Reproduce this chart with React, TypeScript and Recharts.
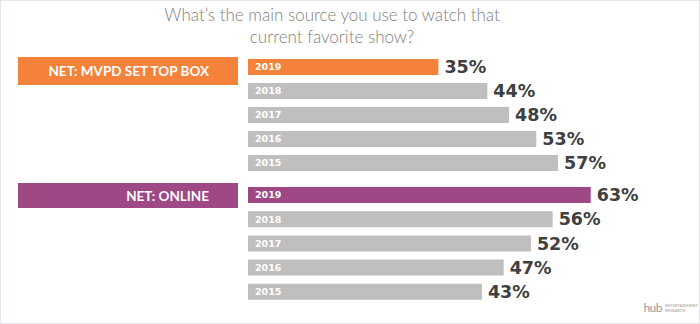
import React from 'react';
import { BarChart, Bar, XAxis, YAxis, LabelList, Cell } from 'recharts';

const years = ['2019', '2018', '2017', '2016', '2015'];
const mvpdValues = [35, 44, 48, 53, 57];
const onlineValues = [63, 56, 52, 47, 43];

const titleLines = ['What’s the main source you use to watch that', 'current favorite show?'];
const groupLabels = ['NET: MVPD SET TOP BOX', 'NET: ONLINE'];

const ORANGE = '#F5823A';
const PURPLE = '#9E4886';
const GRAY = '#BFBFBF';
const DARK = '#404040';

// 5.44px per percentage point, chart 453px wide
const DOMAIN_MAX = 453 / 5.44;

const toRows = (values: number[]) => years.map((year, i) => ({ year, value: values[i] }));

const GroupChart: React.FC<{ values: number[]; color: string; top: number; height: number }> = ({
  values,
  color,
  top,
  height,
}) => {
  const data = toRows(values);
  return (
    <div style={{ position: 'absolute', left: 247, top }}>
      <BarChart
        layout="vertical"
        width={453}
        height={height}
        data={data}
        margin={{ top: 0, right: 0, bottom: 0, left: 0 }}
        barSize={16}
      >
        <XAxis type="number" domain={[0, DOMAIN_MAX]} hide />
        <YAxis type="category" dataKey="year" hide />
        <Bar dataKey="value" isAnimationActive={false}>
          {data.map((d, i) => (
            <Cell key={d.year} fill={i === 0 ? color : GRAY} />
          ))}
          <LabelList
            dataKey="year"
            position="insideLeft"
            offset={7}
            fill="#ffffff"
            fontSize={9.5}
            fontWeight="bold"
            fontFamily="'DejaVu Sans', sans-serif"
          />
          <LabelList
            dataKey="value"
            position="right"
            offset={6}
            formatter={(v: any) => `${v}%`}
            fill={DARK}
            fontSize={17.5}
            fontWeight="bold"
            fontFamily="'DejaVu Sans', sans-serif"
          />
        </Bar>
      </BarChart>
    </div>
  );
};

const GroupBox: React.FC<{ label: string; color: string; top: number; height: number }> = ({
  label,
  color,
  top,
  height,
}) => (
  <div
    style={{
      position: 'absolute',
      left: 17,
      top,
      width: 220,
      height,
      background: color,
      color: '#fff',
      fontFamily: 'Lato, sans-serif',
      fontWeight: 'bold',
      fontSize: 13.5,
      display: 'flex',
      alignItems: 'center',
      justifyContent: 'flex-end',
      paddingRight: 29,
      boxSizing: 'border-box',
    }}
  >
    {label}
  </div>
);

const App: React.FC = () => {
  return (
    <div
      style={{
        position: 'absolute',
        left: 0,
        top: 0,
        width: 700,
        height: 324,
        background: '#fff',
        border: '1px solid #e3e7eb',
        boxSizing: 'border-box',
        overflow: 'hidden',
      }}
    >
      <div
        style={{
          position: 'absolute',
          left: 0,
          top: 3,
          width: 662,
          textAlign: 'center',
          fontFamily: 'Lato, sans-serif',
          fontWeight: 300,
          fontSize: 17,
          lineHeight: '22px',
          color: '#808080',
        }}
      >
        {titleLines.map((t) => (
          <div key={t}>{t}</div>
        ))}
      </div>

      <GroupBox label={groupLabels[0]} color={ORANGE} top={56} height={28} />
      <GroupBox label={groupLabels[1]} color={PURPLE} top={182} height={25} />

      <GroupChart values={mvpdValues} color={ORANGE} top={54.4} height={120} />
      <GroupChart values={onlineValues} color={PURPLE} top={181.6} height={121} />

      <div
        style={{
          position: 'absolute',
          right: 8,
          bottom: 8,
          display: 'flex',
          alignItems: 'center',
          gap: 3,
          color: '#9a9a9a',
          fontFamily: 'Lato, sans-serif',
        }}
      >
        <span style={{ fontSize: 12, letterSpacing: -0.5 }}>hub</span>
        <span style={{ fontSize: 4, lineHeight: '5px', width: 26 }}>ENTERTAINMENT RESEARCH</span>
      </div>
    </div>
  );
};

export default App;
